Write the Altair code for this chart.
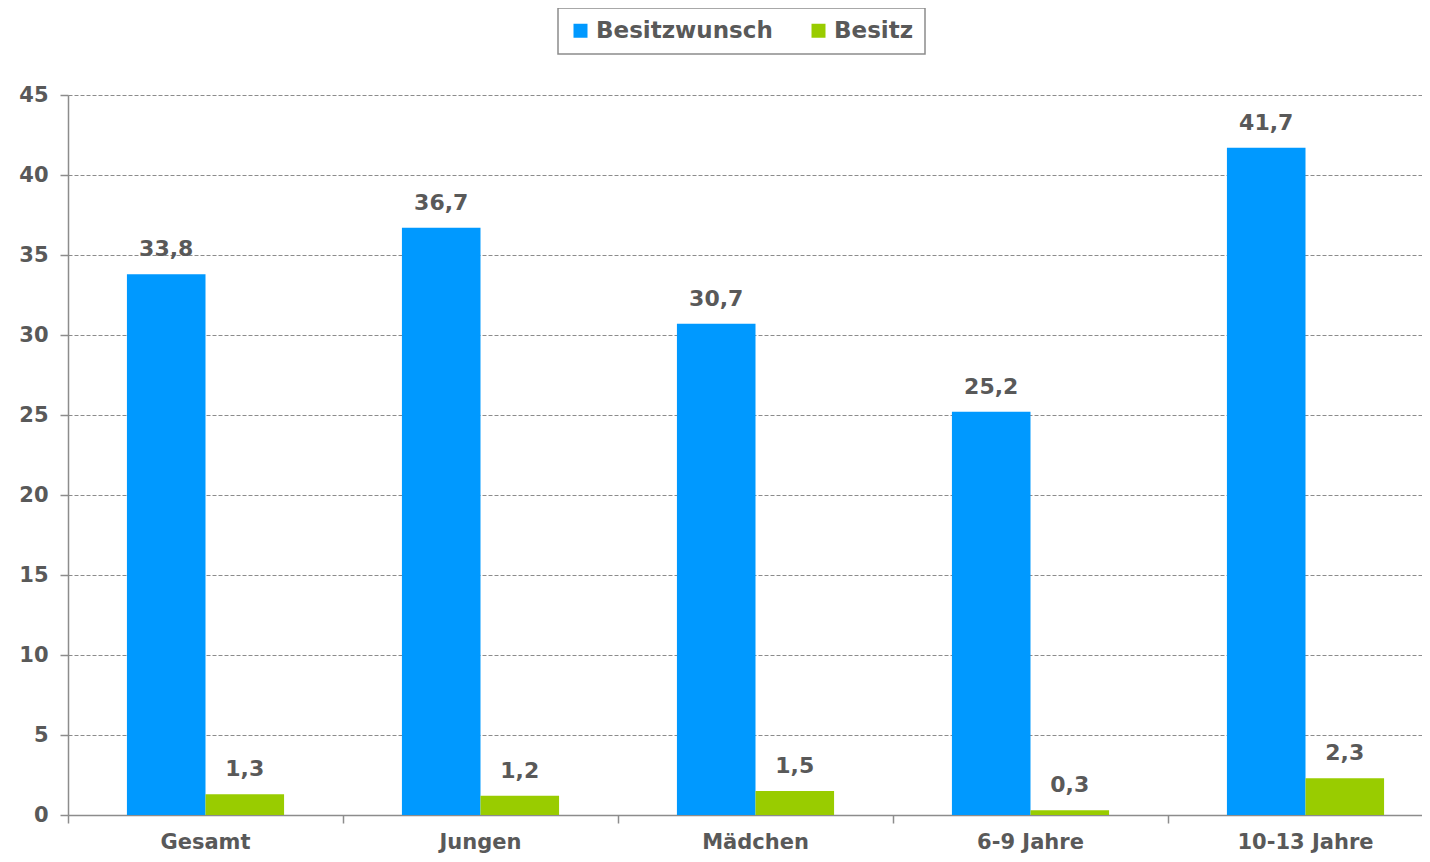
import altair as alt
import pandas as pd

categories = ["Gesamt", "Jungen", "Mädchen", "6-9 Jahre", "10-13 Jahre"]
series = ["Besitzwunsch", "Besitz"]
besitzwunsch = [33.8, 36.7, 30.7, 25.2, 41.7]
besitz = [1.3, 1.2, 1.5, 0.3, 2.3]
y_ticks = [0, 5, 10, 15, 20, 25, 30, 35, 40, 45]
colors = ["#0099FF", "#99CC00"]

rows = []
for c, a, b in zip(categories, besitzwunsch, besitz):
    rows.append({"cat": c, "series": series[0], "value": a, "label": f"{a:.1f}".replace(".", ",")})
    rows.append({"cat": c, "series": series[1], "value": b, "label": f"{b:.1f}".replace(".", ",")})
df = pd.DataFrame(rows)

FONT = "DejaVu Sans"
GRAY = "#595959"
LINE = "#8c8c8c"

# the category bands run 275 px each; the last one runs past the right edge as in the reference
x_scale = alt.Scale(domain=categories, paddingInner=0, paddingOuter=0, range=[0, 1375])
xo_scale = alt.Scale(domain=series, paddingInner=0, paddingOuter=0.75)
y_scale = alt.Scale(domain=[0, 45], nice=False)
color_scale = alt.Scale(domain=series, range=colors)

base = alt.Chart(df)

bars = base.mark_bar().encode(
    x=alt.X("cat:N", scale=x_scale, sort=categories,
            axis=alt.Axis(title=None, labelAngle=0, ticks=False, domain=True,
                          domainColor=LINE, domainWidth=1.5,
                          labelFont=FONT, labelFontSize=21, labelFontWeight="bold",
                          labelColor=GRAY, labelPadding=16, orient="bottom")),
    xOffset=alt.XOffset("series:N", scale=xo_scale, sort=series),
    y=alt.Y("value:Q", scale=y_scale,
            axis=alt.Axis(title=None, values=y_ticks, grid=True, gridColor=LINE,
                          gridDash=[4, 2], gridWidth=1, domainColor=LINE, domainWidth=1.5,
                          tickColor=LINE, tickSize=8, tickWidth=1.5,
                          labelFont=FONT, labelFontSize=21, labelFontWeight="bold",
                          labelColor=GRAY, labelPadding=12)),
    color=alt.Color("series:N", scale=color_scale, sort=series,
                    legend=alt.Legend(title=None, orient="none", direction="horizontal",
                                      legendX=490, legendY=-87,
                                      strokeColor=LINE, fillColor="white",
                                      padding=11, symbolType="square", symbolSize=196,
                                      symbolStrokeWidth=0, columnPadding=34,
                                      labelLimit=400,
                                      labelFont=FONT, labelFontSize=23, labelFontWeight="bold",
                                      labelColor=GRAY, labelOffset=4)),
)

# separate tick-only axis at category boundaries
ticks = base.mark_bar(opacity=0).encode(
    x=alt.X("cat:N", scale=x_scale, sort=categories,
            axis=alt.Axis(title=None, labels=False, domain=False, ticks=True,
                          tickColor=LINE, tickSize=8, tickWidth=1.5, bandPosition=0,
                          orient="bottom")),
    y=alt.Y("value:Q", scale=y_scale),
)

labels = base.mark_text(dy=-13, baseline="bottom", font=FONT, fontSize=22,
                        fontWeight="bold", color=GRAY).encode(
    x=alt.X("cat:N", scale=x_scale, sort=categories, axis=None),
    xOffset=alt.XOffset("series:N", scale=xo_scale, sort=series),
    y=alt.Y("value:Q", scale=y_scale),
    text="label:N",
)

chart = alt.layer(bars, labels, ticks).resolve_axis(x="independent").properties(
    width=1354, height=720,
    autosize=alt.AutoSizeParams(type="none"),
    padding={"left": 60, "top": 87, "right": 0, "bottom": 39},
).configure_view(stroke=None).configure_legend(strokeWidth=1.5)

chart.save("out.html", embed_options={"renderer": "svg", "actions": False})
